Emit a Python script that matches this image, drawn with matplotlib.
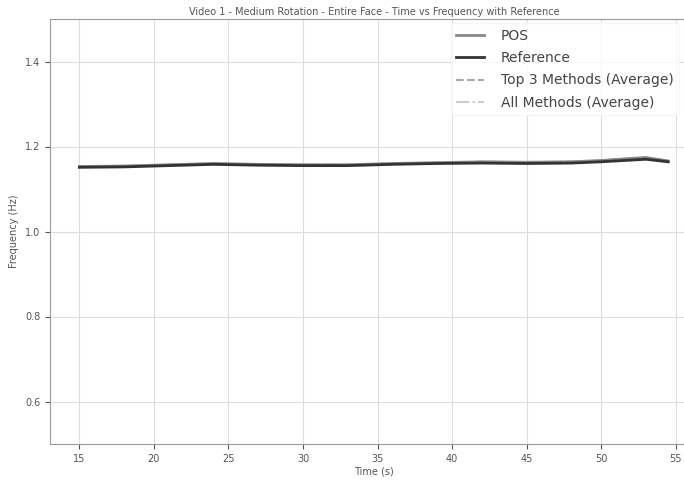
import matplotlib
matplotlib.use('Agg')
import matplotlib.pyplot as plt

# time points (s) and frequency estimates (Hz)
t = [15, 18, 21, 24, 27, 30, 33, 36, 39, 42, 45, 48, 50, 52, 53, 54.5]
pos = [1.153, 1.154, 1.157, 1.160, 1.158, 1.157, 1.157, 1.160, 1.162, 1.164, 1.163, 1.164, 1.167, 1.172, 1.174, 1.166]
ref = [1.151, 1.152, 1.155, 1.158, 1.156, 1.155, 1.155, 1.158, 1.160, 1.161, 1.160, 1.161, 1.164, 1.168, 1.170, 1.164]
top3 = pos
allm = pos

xticks = [15, 20, 25, 30, 35, 40, 45, 50, 55]
yticks = [0.6, 0.8, 1.0, 1.2, 1.4]

fig = plt.figure(figsize=(6.84, 4.83), dpi=100)
ax = fig.add_axes([50/684, 39/483, 648/684, 425/483])

ax.plot(t, allm, color='#cccccc', linestyle='-.', linewidth=1.5, label='All Methods (Average)')
ax.plot(t, top3, color='#aaaaaa', linestyle='--', linewidth=1.5, label='Top 3 Methods (Average)')
ax.plot(t, pos, color='#888888', linewidth=2, label='POS')
ax.plot(t, ref, color='#333333', linewidth=2, label='Reference')

handles, labels = ax.get_legend_handles_labels()
order = [2, 3, 1, 0]
leg = ax.legend([handles[i] for i in order], [labels[i] for i in order],
                loc='upper left', bbox_to_anchor=(0.612, 1.0), fontsize=10,
                handletextpad=1.2, labelspacing=0.6, borderaxespad=0.3,
                frameon=True, framealpha=0.8, edgecolor='#f4f4f4')
for txt in leg.get_texts():
    txt.set_color('#444444')

ax.set_xlim(13.03, 56.5)
ax.set_ylim(0.5, 1.5)
ax.set_xticks(xticks)
ax.set_yticks(yticks)
ax.tick_params(labelsize=7, colors='#555555')
ax.grid(True, color='#dddddd', linewidth=0.8)
for s in ax.spines.values():
    s.set_color('#999999')
ax.set_xlabel('Time (s)', fontsize=7, color='#555555', labelpad=2)
ax.set_ylabel('Frequency (Hz)', fontsize=7, color='#555555')
ax.set_title('Video 1 - Medium Rotation - Entire Face - Time vs Frequency with Reference',
             fontsize=7, color='#555555', pad=3)

fig.savefig('out.png', dpi=100)
